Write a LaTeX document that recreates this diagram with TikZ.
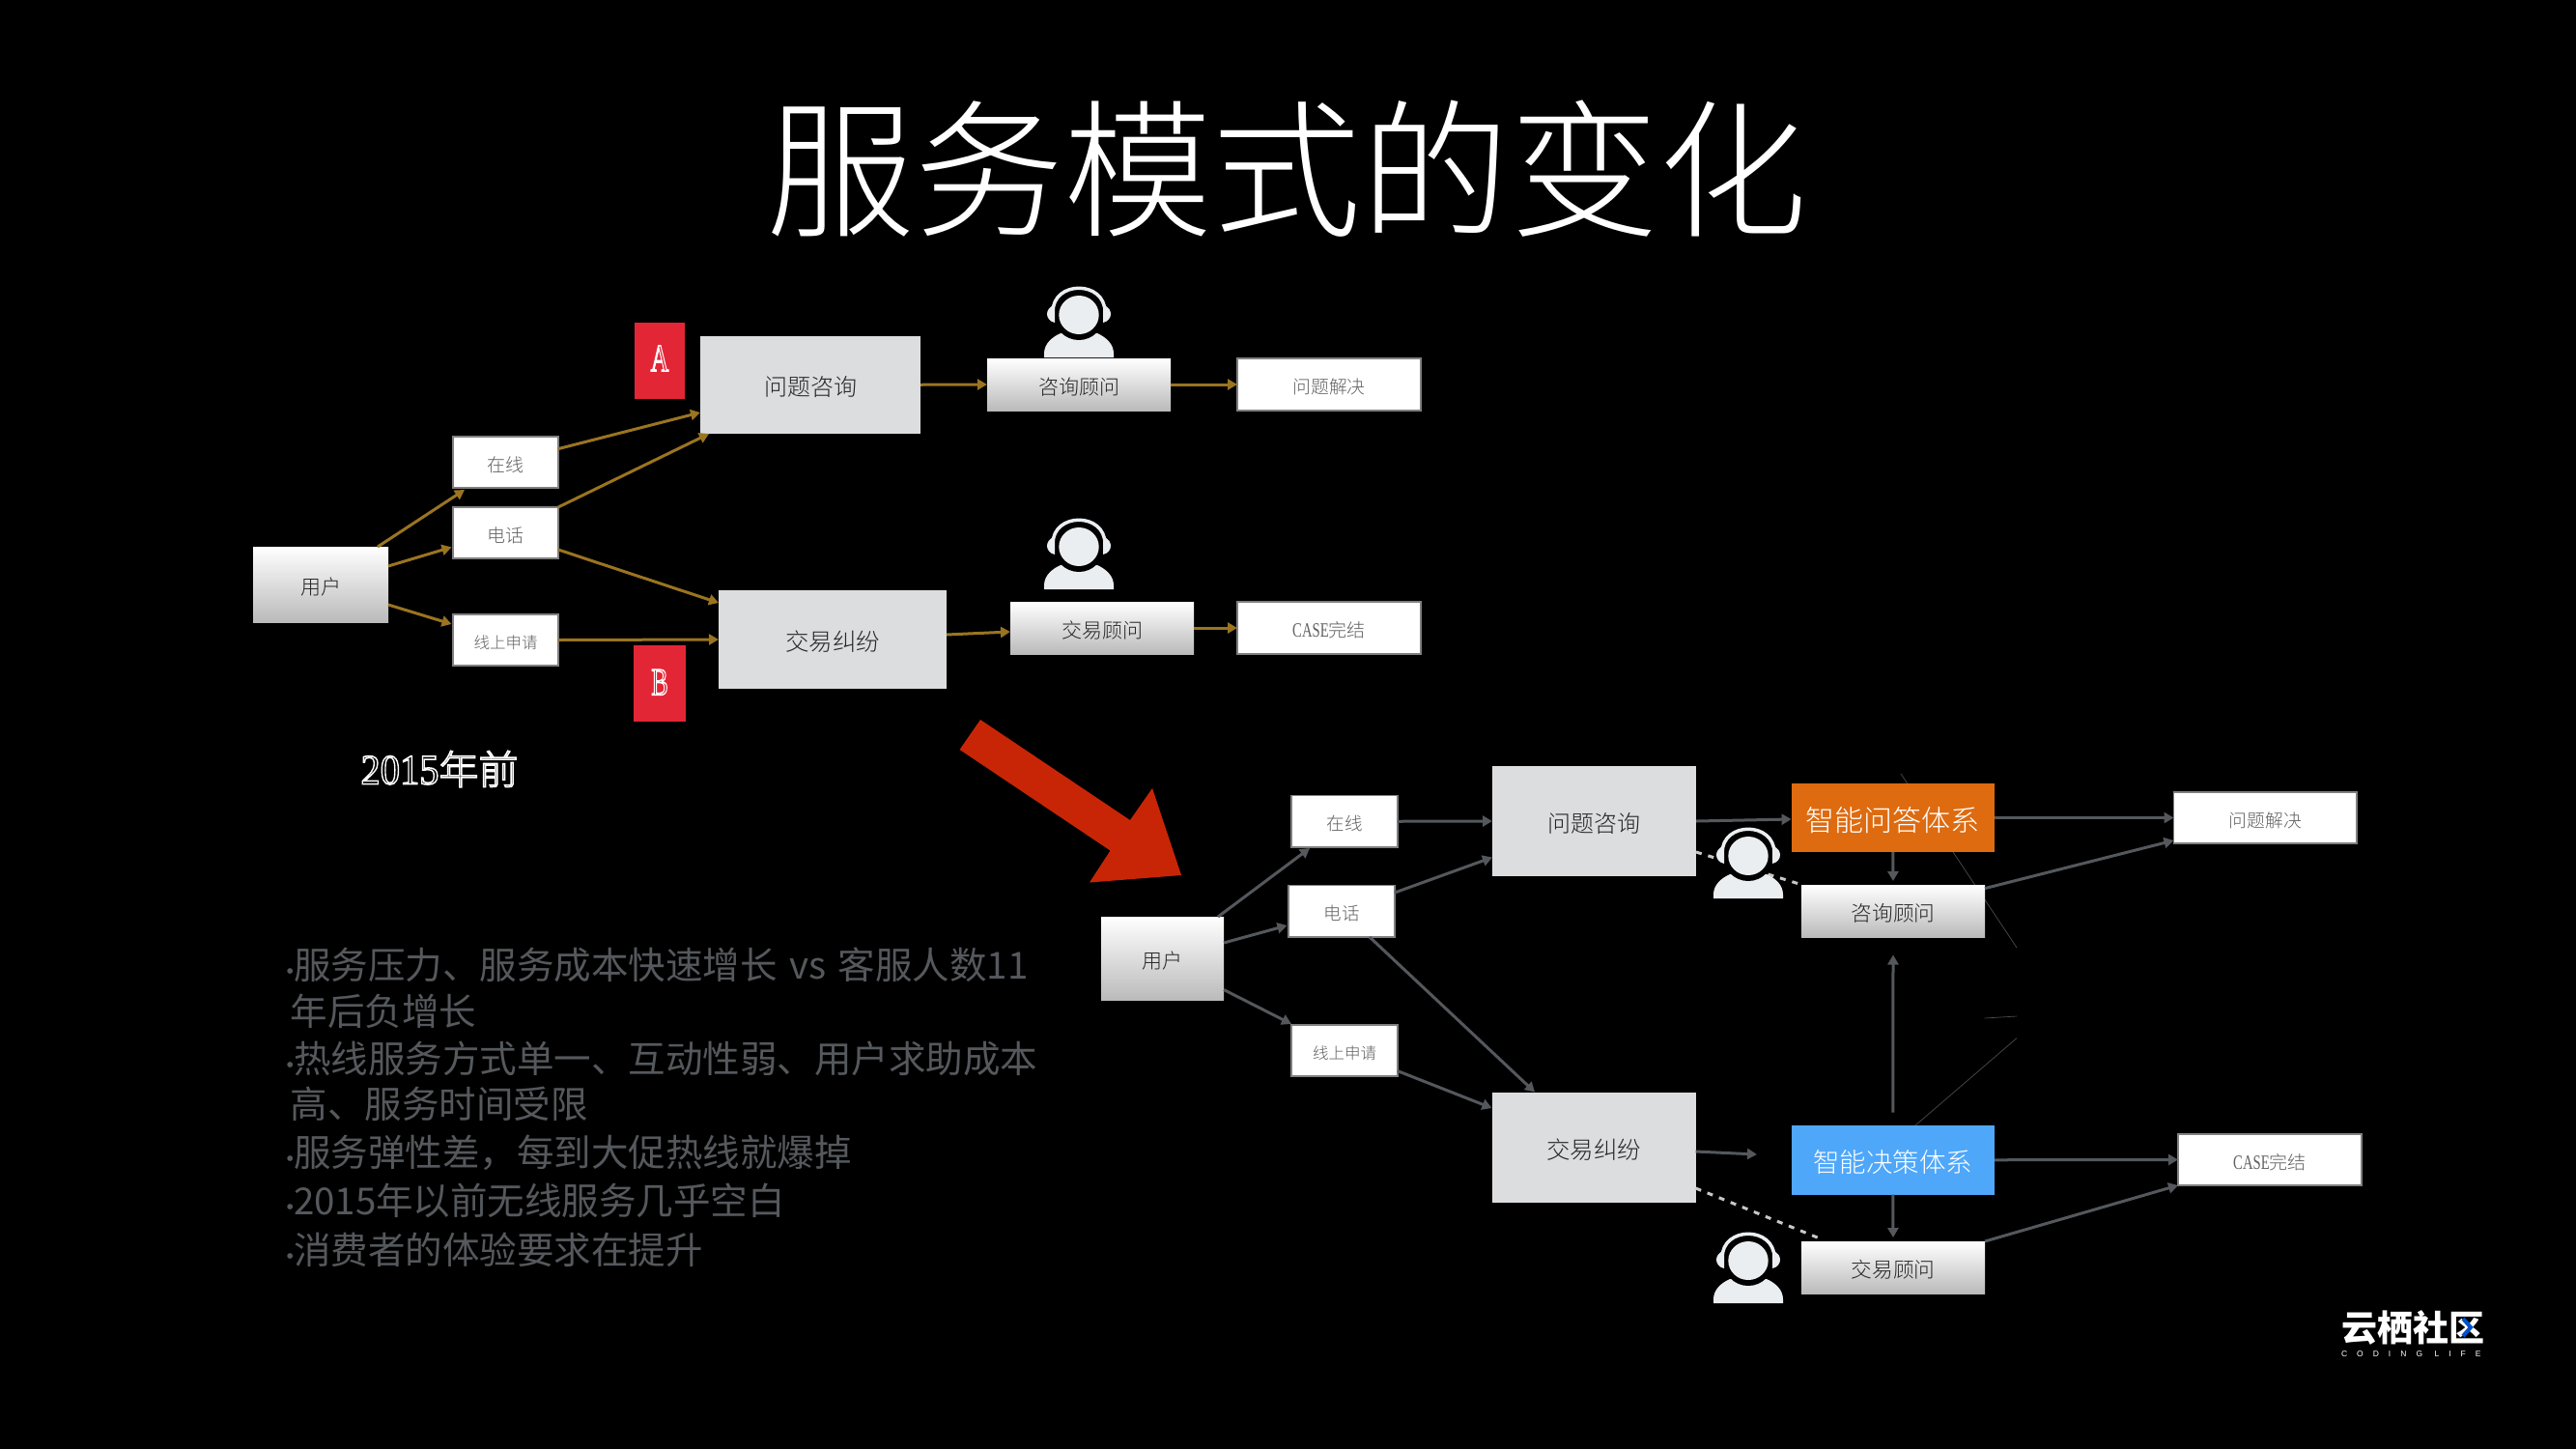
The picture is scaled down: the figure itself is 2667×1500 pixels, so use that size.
\documentclass[tikz,border=0pt]{standalone}
\usepackage{fontspec}
\setmainfont{Noto Sans CJK SC}
\newfontfamily\cjl{Noto Sans CJK SC Light}
\newfontfamily\serl{Liberation Serif}
\newfontfamily\logolat[LetterSpace=118]{Liberation Sans}
\usetikzlibrary{arrows.meta}
\definecolor{gold}{HTML}{9A7420}
\definecolor{arrgrey}{HTML}{54585C}
\definecolor{bigbox}{HTML}{DCDDDF}
\definecolor{persona}{HTML}{EBEEF0}
\definecolor{redtag}{HTML}{E32636}
\definecolor{redarrow}{HTML}{C82506}
\definecolor{orangebox}{HTML}{DE6B10}
\definecolor{bluebox}{HTML}{4FA7FA}
\definecolor{bodytext}{HTML}{55585C}
\newcommand{\fsz}[1]{\fontsize{#1}{#1}\selectfont}
\newcommand{\outl}[1]{\special{pdf:code q 1 Tr 1.5 w 1 1 1 RG}#1\special{pdf:code Q}}
\newcommand{\bx}[7]{%
  \pgfmathsetmacro\cxx{(#3+#5)/2}\pgfmathsetmacro\cyy{(#4+#6)/2}%
  \pgfmathsetmacro\wdd{#5-#3}\pgfmathsetmacro\htt{#6-#4}%
  \node[#2,minimum width=\wdd pt,minimum height=\htt pt] (#1) at (\cxx,\cyy) {\raisebox{0pt}[\dimexpr\height+5pt\relax]{#7}};}
\newcommand{\casetxt}{{\serl\fsz{21}\scalebox{.7}[1]{CASE}}完结}
\tikzset{
  base/.style={inner sep=0pt,outer sep=0pt,align=center,font=\cjl},
  gradbox/.style={base,top color=white,bottom color=black!27,text=black!85},
  whitebox/.style={base,fill=white,draw=black!50,line width=1.5pt,text=black!62},
  bigb/.style={base,fill=bigbox,text=black!85},
  tag/.style={base,fill=redtag,text=white},
  smart/.style={base,text=white},
  golda/.style={draw=gold,line width=3pt,-{Triangle[length=10pt,width=11pt]}},
  greya/.style={draw=arrgrey,line width=3pt,-{Triangle[length=10pt,width=11pt]}},
  dash line/.style={draw=black!22,line width=3pt,dash pattern=on 6pt off 7pt},
  hair/.style={draw=black!70,line width=.7pt},
  bodyline/.style={inner sep=0pt,outer sep=0pt,anchor=west,text=bodytext,font=\fsz{38.5}},
  person/.pic={
    \fill[persona] (-36,44) -- (-36,40) .. controls (-36,30) and (-28,23) .. (-19,19) -- (19,19) .. controls (28,23) and (36,30) .. (36,40) -- (36,44) -- cycle;
    \fill[black] (0,0) circle[radius=26];
    \fill[persona] (0,0) ellipse[x radius=20.7,y radius=20];
    \draw[persona,line width=3.5pt] (-27,-3) .. controls (-27,-36) and (27,-36) .. (27,-3);
    \fill[persona] (-25,-10) .. controls (-31,-9) and (-33,-4) .. (-33,-1) .. controls (-33,3) and (-30,7) .. (-25,8) -- cycle;
    \fill[persona] (25,-10) .. controls (31,-9) and (33,-4) .. (33,-1) .. controls (33,3) and (30,7) .. (25,8) -- cycle;
  }
}
\begin{document}
\begin{tikzpicture}[x=1pt,y=-1pt]
\useasboundingbox (0,0) rectangle (2667,1500);
\fill[black] (0,0) rectangle (2667,1500);

% hairlines under the boxes
\coordinate (ha1) at (1968,801); \coordinate (ha2) at (2088,981);
\coordinate (hb1) at (2054.6,1054); \coordinate (hb2) at (2088,1052);
\coordinate (hc1) at (1983,1165); \coordinate (hc2) at (2088,1074.6);
\draw[hair] (ha1) -- (ha2);
\draw[hair] (hb1) -- (hb2);
\draw[hair] (hc1) -- (hc2);

\node[base,text=white,font=\cjl\fsz{154}] (title) at (1332,175) {服务模式的变化};

% upper flow
\bx{tu}{gradbox}{262}{566}{402}{644}{\fsz{21}用户}
\bx{ton}{whitebox}{469}{452}{578}{505}{\fsz{19}在线}
\bx{tdh}{whitebox}{469}{525}{578}{578}{\fsz{19}电话}
\bx{tsq}{whitebox}{469}{636}{578}{689}{\fsz{16.5}线上申请}
\bx{tq}{bigb}{725}{347.5}{953}{449}{\fsz{24}问题咨询}
\bx{tj}{bigb}{744}{611}{980}{713}{\fsz{24.5}交易纠纷}
\bx{ta}{tag}{657}{334}{709}{413}{\serl\fsz{40}\scalebox{.65}[1]{\outl{A}}\rule[-10pt]{0pt}{1pt}}
\bx{tb}{tag}{656}{667.5}{710}{747}{\serl\fsz{40}\scalebox{.65}[1]{\outl{B}}\rule[-7pt]{0pt}{1pt}}
\bx{tqa}{gradbox}{1022}{371}{1212}{425}{\fsz{21}咨询顾问}
\bx{tja}{gradbox}{1046}{623}{1236}{677}{\fsz{21}交易顾问}
\bx{tqs}{whitebox}{1281}{371}{1471}{425}{\fsz{18.8}问题解决}
\bx{tcs}{whitebox}{1281}{623}{1471}{677}{\fsz{19}\casetxt}
\node[base,text=white] (t2015) at (455,796) {\outl{{\serl\fsz{44}\scalebox{.92}[1]{2015}}\fsz{41}年前}};

\draw[golda] ([xshift=-11pt]tu.north east) -- ([xshift=12pt,yshift=-2pt]ton.south west);
\draw[golda] ([yshift=-20pt]tu.north east) -- ([xshift=-1.5pt,yshift=11.6pt]tdh.south west);
\draw[golda] ([yshift=18pt]tu.south east) -- ([xshift=-1.5pt,yshift=-10pt]tsq.north west);
\draw[golda] ([yshift=-12.6pt]ton.north east) -- ([yshift=22pt]tq.south west);
\draw[golda] (tdh.north east) -- ([xshift=9pt]tq.south west);
\draw[golda] ([yshift=9pt]tdh.south east) -- ([yshift=-13pt]tj.north west);
\draw[golda] (tsq.east) -- (tj.west);
\draw[golda] (tq.east) -- (tqa.west);
\draw[golda] ([yshift=5pt]tj.east) -- ([yshift=-4pt]tja.west);
\draw[golda] (tqa.east) -- (tqs.west);
\draw[golda] (tja.east) -- (tcs.west);

\pic at (1117,326) {person};
\pic at (1117,566) {person};

% red arrow
\fill[redarrow] (1015,745) -- (1170,849) -- (1193,816) -- (1223,906) -- (1128,913.5) -- (1149.5,880.5) -- (993.6,776) -- cycle;

% lower flow
\bx{bu}{gradbox}{1140}{949}{1267}{1035.5}{\fsz{21}用户}
\bx{bon}{whitebox}{1337}{823.5}{1447}{877}{\fsz{18.5}在线}
\bx{bdh}{whitebox}{1334}{916.5}{1444}{970}{\fsz{18.5}电话}
\bx{bsq}{whitebox}{1337}{1061}{1447}{1114}{\fsz{16.5}线上申请}
\bx{bq}{bigb}{1545}{793}{1756}{907}{\fsz{24}问题咨询}
\bx{bj}{bigb}{1544.5}{1130.5}{1755.6}{1244.5}{\fsz{24.5}交易纠纷}
\bx{bqa}{smart,fill=orangebox}{1854.6}{811}{2065}{882}{\fsz{30}智能问答体系}
\bx{bja}{smart,fill=bluebox}{1854.6}{1165}{2065}{1236.5}{\fsz{27.5}智能决策体系}
\bx{bqc}{gradbox}{1865}{916}{2055}{970}{\fsz{21.7}咨询顾问}
\bx{bjc}{gradbox}{1865}{1285}{2055}{1339}{\fsz{21.7}交易顾问}
\bx{bqs}{whitebox}{2250.5}{820}{2440}{873}{\fsz{18.8}问题解决}
\bx{bcs}{whitebox}{2255}{1174}{2445}{1227}{\fsz{19}\casetxt}

\draw[greya] ([xshift=-6pt]bu.north east) -- ([xshift=19pt,yshift=-1pt]bon.south west);
\draw[greya] ([yshift=-27pt]bu.north east) -- ([xshift=-1.5pt,yshift=12pt]bdh.south west);
\draw[greya] ([yshift=11pt]bu.south east) -- ([yshift=1pt]bsq.north west);
\draw[greya] (bon.east) -- (bq.west);
\draw[greya] ([yshift=-7.5pt]bdh.north east) -- ([yshift=19.5pt]bq.south west);
\draw[greya] ([xshift=-26pt]bdh.south east) -- ([xshift=44.5pt]bj.north west);
\draw[greya] ([yshift=5.4pt]bsq.south east) -- ([yshift=-16.5pt]bj.north west);
\draw[greya] (bq.east) -- ([yshift=-1.5pt]bqa.west);
\draw[greya] (bqa.east) -- (bqs.west);
\draw[greya] (bqa.south) -- ([yshift=4pt]bqc.north);
\draw[greya] ([yshift=-3.6pt]bqc.north east) -- ([yshift=3pt]bqs.south west);
\coordinate (bjend) at (1819,1195);
\draw[greya] ([yshift=-4.5pt]bj.east) -- (bjend);
\draw[greya] ([yshift=13.5pt]bja.north) -- ([yshift=-18.5pt]bqc.south);
\draw[greya] (bja.east) -- (bcs.west);
\draw[greya] (bja.south) -- ([yshift=4pt]bjc.north);
\draw[greya] (bjc.north east) -- (bcs.south west);
\draw[dash line] ([yshift=25pt]bq.south east) -- ([xshift=1pt]bqc.north west);
\draw[dash line] ([yshift=14.5pt]bj.south east) -- ([xshift=19pt,yshift=3pt]bjc.north west);

\pic at (1810,886) {person};
\pic at (1810,1305) {person};

% bullet text
\newcommand{\blt}{\makebox[8pt][l]{\serl\fsz{24}•}}
\node[bodyline] (l1) at (296,999) {\blt 服务压力、服务成本快速增长\hspace{4pt} vs \hspace{4pt}客服人数11};
\node[bodyline] (l2) at (300.5,1047) {年后负增长};
\node[bodyline] (l3) at (296,1096) {\blt 热线服务方式单一、互动性弱、用户求助成本};
\node[bodyline] (l4) at (300.5,1143) {高、服务时间受限};
\node[bodyline] (l5) at (296,1193) {\blt 服务弹性差，每到大促热线就爆掉};
\node[bodyline] (l6) at (296,1243) {\blt 2015年以前无线服务几乎空白};
\node[bodyline] (l7) at (296,1294) {\blt 消费者的体验要求在提升};

% logo
\node[base,anchor=west,text=white,font=\bfseries\fsz{37}] (logo) at (2424,1374.5) {云栖社区};
\node[base,anchor=west,text=white] (logolat) at (2424,1401.5) {\logolat\fsz{8.5}CODING LIFE};
\draw[draw=blue!60!cyan!80!black,line width=4pt] (2550,1365) -- (2558,1374) -- (2550,1383);
\end{tikzpicture}
\end{document}
